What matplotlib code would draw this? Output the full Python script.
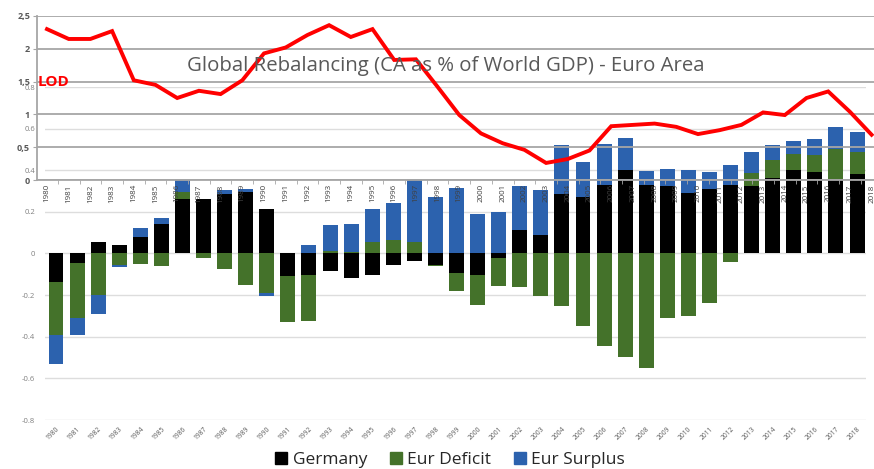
import numpy as np
import matplotlib
matplotlib.use('Agg')
from matplotlib import pyplot as plt
from matplotlib.lines import Line2D

plt.rcParams['font.family'] = ['Open Sans', 'DejaVu Sans']

years = list(range(1980, 2019))
year_labels = [str(y) for y in years]

# CA as % of world GDP, stacked bars (Excel-style stacking)
germany = [-0.135, -0.045, 0.055, 0.04, 0.079, 0.14, 0.26, 0.26, 0.288, 0.296,
           0.212, -0.106, -0.101, -0.082, -0.12, -0.105, -0.053, -0.034, -0.053, -0.095,
           -0.101, -0.021, 0.111, 0.088, 0.284, 0.272, 0.331, 0.40, 0.331, 0.326,
           0.29, 0.312, 0.331, 0.324, 0.365, 0.403, 0.392, 0.36, 0.384]
eur_deficit = [-0.255, -0.265, -0.2, -0.053, -0.05, -0.058, 0.035, -0.022, -0.074, -0.15,
               -0.19, -0.222, -0.225, 0.014, 0.006, 0.055, 0.064, 0.055, -0.005, -0.083,
               -0.146, -0.135, -0.16, -0.202, -0.25, -0.347, -0.443, -0.496, -0.551, -0.31,
               -0.30, -0.236, -0.042, 0.065, 0.083, 0.074, 0.08, 0.14, 0.104]
eur_surplus = [-0.14, -0.08, -0.09, -0.01, 0.045, 0.03, 0.065, 0.0, 0.015, 0.012,
               -0.014, 0.0, 0.043, 0.124, 0.137, 0.157, 0.177, 0.305, 0.272, 0.317,
               0.188, 0.2, 0.214, 0.216, 0.236, 0.168, 0.194, 0.156, 0.066, 0.082,
               0.11, 0.08, 0.093, 0.099, 0.071, 0.064, 0.076, 0.106, 0.094]

# LOD line
lod = [2.30, 2.15, 2.15, 2.27, 1.52, 1.45, 1.25, 1.36, 1.31, 1.52,
       1.93, 2.02, 2.21, 2.36, 2.18, 2.30, 1.83, 1.84, 1.42, 0.99,
       0.71, 0.56, 0.46, 0.26, 0.32, 0.45, 0.82, 0.84, 0.86, 0.81,
       0.70, 0.76, 0.84, 1.03, 0.99, 1.25, 1.35, 1.04, 0.69]

W, H = 874, 469
fig = plt.figure(figsize=(W / 100, H / 100), dpi=100)
fig.patch.set_facecolor('white')

# ---- bar chart (bottom layer)
ax = fig.add_axes([45 / W, 1 - 420 / H, (866 - 45) / W, (420 - 87) / H])
x = np.arange(len(years))
pos = np.zeros(len(years))
neg = np.zeros(len(years))
series = [(germany, '#000000', 'Germany'),
          (eur_deficit, '#44722a', 'Eur Deficit'),
          (eur_surplus, '#2c62ae', 'Eur Surplus')]
for vals, col, name in series:
    v = np.array(vals)
    bottom = np.where(v >= 0, pos, neg)
    ax.bar(x, v, bottom=bottom, width=0.71, color=col, zorder=3)
    pos = pos + np.where(v >= 0, v, 0)
    neg = neg + np.where(v < 0, v, 0)

ax.set_xlim((45 - 56) / 21.08, (866 - 56) / 21.08)
ax.set_ylim(-0.8, 0.8)
yt = [-0.8, -0.6, -0.4, -0.2, 0, 0.2, 0.4, 0.6, 0.8]
ax.set_yticks(yt)
ax.set_yticklabels(['-0.8', '-0.6', '-0.4', '-0.2', '0', '0.2', '0.4', '0.6', '0.8'],
                   fontsize=5.5, color='#808080')
ax.grid(axis='y', color='#dddddd', lw=1, zorder=0)
ax.set_xticks(x)
ax.set_xticklabels(year_labels, rotation=45, ha='right', va='top',
                   fontsize=4.8, color='#595959', rotation_mode='anchor')
ax.tick_params(length=0, pad=7)
ax.tick_params(axis='x', pad=4)
for s in ax.spines.values():
    s.set_visible(False)

# ---- line chart (overlay)
ax2 = fig.add_axes([37 / W, 1 - 180 / H, (W - 37) / W, (180 - 16) / H])
ax2.patch.set_alpha(0)
ax2.plot(x, lod, color='#ff0000', lw=2.8, zorder=5, solid_joinstyle='miter')
ax2.set_xlim((37 - 47) / 21.7, (W - 47) / 21.7)
ax2.set_ylim(0, 2.5)
ax2.set_yticks([0, 0.5, 1, 1.5, 2, 2.5])
ax2.set_yticklabels(['0', '0,5', '1', '1,5', '2', '2,5'], fontsize=6.5,
                    color='#595959', fontweight='bold')
ax2.grid(axis='y', color='#a6a6a6', lw=1.3, zorder=1)
ax2.set_xticks(x)
ax2.set_xticklabels(year_labels, rotation=90, va='top', ha='center',
                    fontsize=5.8, color='#404040')
ax2.set_xticks(x[:-1] + 0.5, minor=True)
ax2.tick_params(axis='x', which='major', length=0, pad=3)
ax2.tick_params(axis='x', which='minor', length=3, color='#a6a6a6')
ax2.tick_params(axis='y', length=3, color='#a6a6a6', pad=2)
for k in ['top', 'right']:
    ax2.spines[k].set_visible(False)
for k in ['left', 'bottom']:
    ax2.spines[k].set_color('#a6a6a6')
    ax2.spines[k].set_linewidth(1.3)

fig.text(446 / W, 1 - 66 / H, 'Global Rebalancing (CA as % of World GDP) - Euro Area',
         ha='center', va='center', fontsize=14.7, color='#595959')
fig.text(38 / W, 1 - 82 / H, 'LOD', ha='left', va='center', fontsize=11,
         color='#ff0000', fontweight='bold')

handles = [Line2D([], [], marker='s', ls='none', ms=8, color=c) for _, c, _ in series]
fig.legend(handles, [n for _, _, n in series], loc='center', ncol=3,
           bbox_to_anchor=(450 / W, 1 - 460 / H), frameon=False, fontsize=12.5,
           handletextpad=0.3, columnspacing=1.3, handlelength=0.7,
           labelcolor='#262626')

fig.savefig('out.png', dpi=100)
